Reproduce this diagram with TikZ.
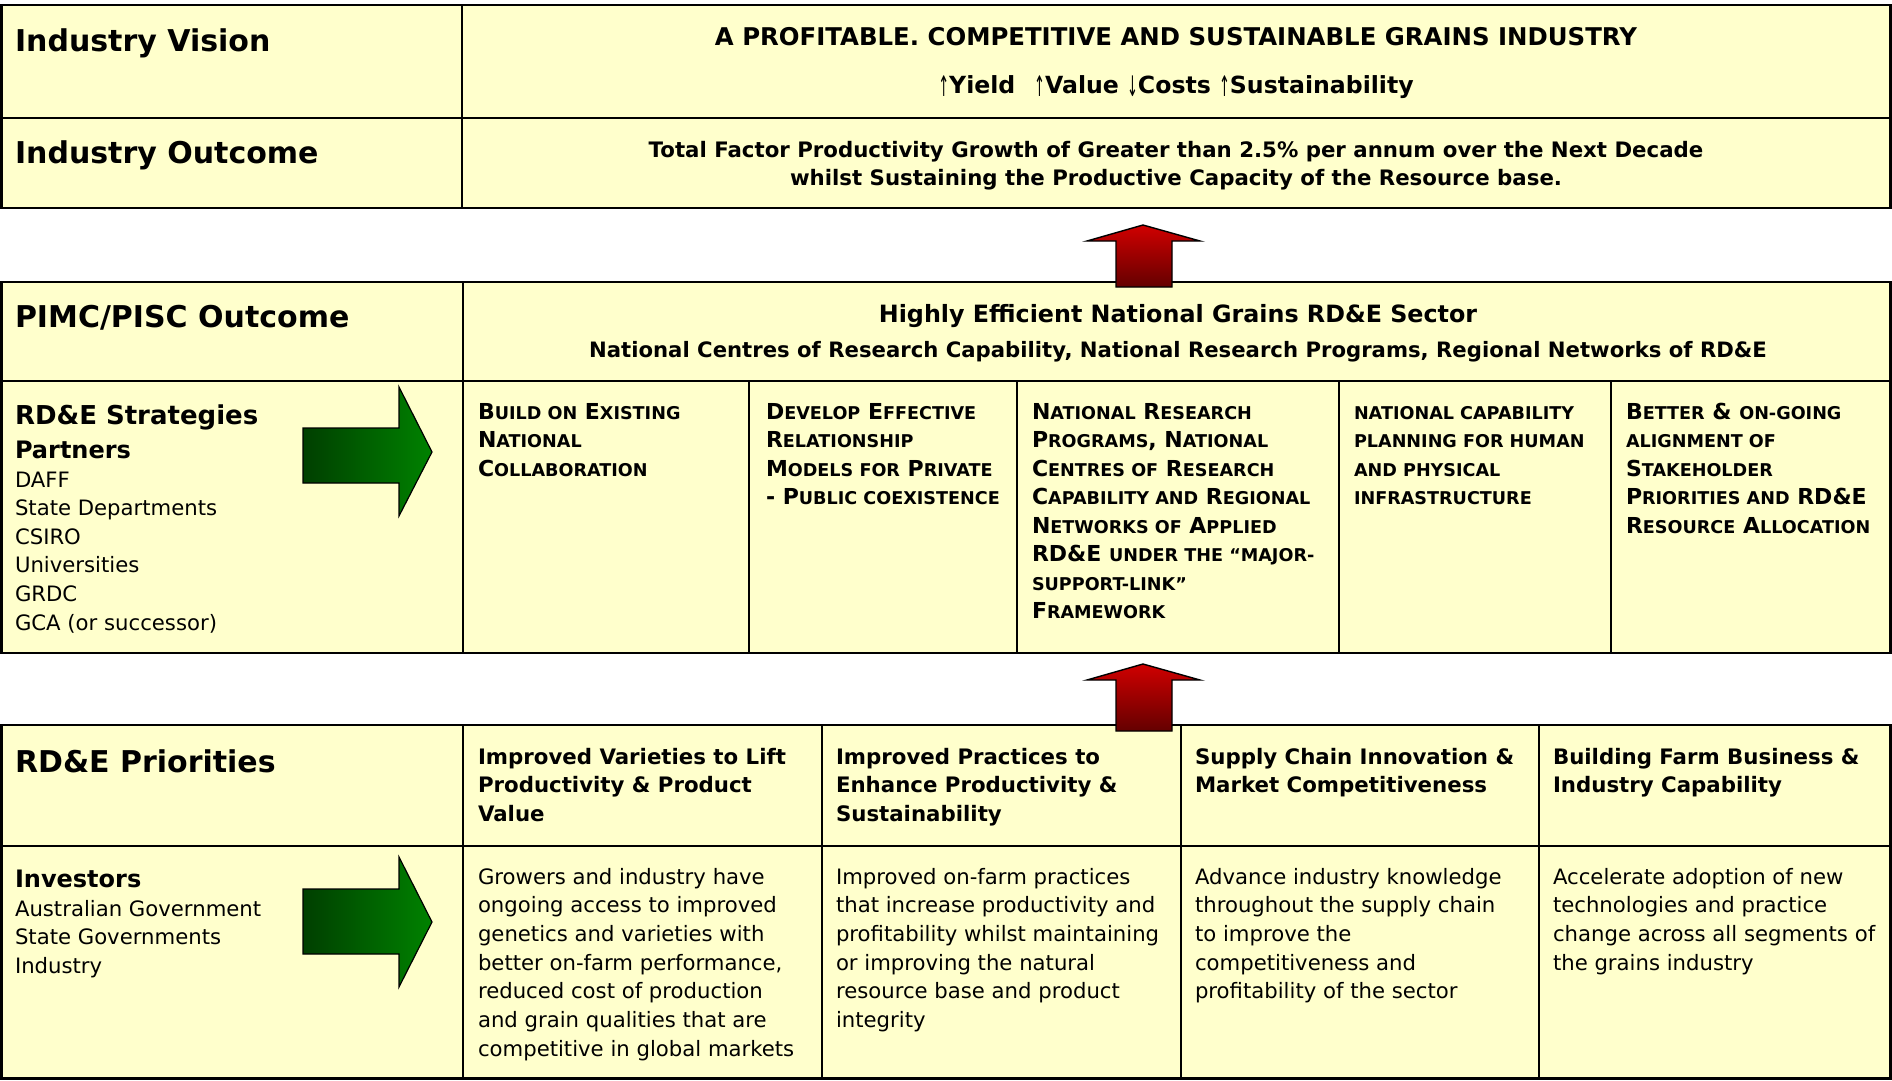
\documentclass[tikz,border=0pt]{standalone}
\usepackage{fontspec}
\setmainfont{DejaVu Sans}
\usetikzlibrary{shadings}

\definecolor{cellyellow}{HTML}{FFFFCC}
\definecolor{arrowred}{HTML}{D00000}
\definecolor{arrowdark}{HTML}{640000}
\definecolor{greendark}{HTML}{003F00}
\definecolor{greenlight}{HTML}{008200}

% font helpers
\newcommand\fsz[2]{\fontsize{#1}{#2}\selectfont}
% reduced capitals for the small-caps strategy texts
\newcommand\smc[1]{{\fontsize{17.6}{28}\selectfont #1}}
% thin vertical arrows in the vision line
\newcommand\uarr{{\mdseries\raisebox{-3.5pt}{\scalebox{0.55}[1.2]{↑}}}}
\newcommand\darr{{\mdseries\raisebox{-3.5pt}{\scalebox{0.55}[1.2]{↓}}}}

% one node per line: name, x, first baseline, line step, style, lines
\newcommand\textlines[6]{%
  \foreach \tline [count=\k] in {#6} {%
    \node[#5] (#1-\k) at (#2,{#3+(\k-1)*#4}) {\tline};
  }%
}

\tikzset{
  cell/.style={fill=cellyellow},
  outerline/.style={draw=black, line width=2.6pt},
  innerline/.style={draw=black, line width=1.8pt},
  lbl/.style={anchor=base west, inner sep=0pt, outer sep=0pt},
  ctr/.style={anchor=base, inner sep=0pt, outer sep=0pt},
  headtxt/.style={lbl, font=\fsz{30}{36}\bfseries},
  subhead/.style={lbl, font=\fsz{26}{31}\bfseries},
  grouptxt/.style={lbl, font=\fsz{24}{29}\bfseries},
  plaintxt/.style={lbl, font=\fsz{21.2}{28}},
  boldtxt/.style={lbl, font=\fsz{21.3}{28}\bfseries},
  sctxt/.style={lbl, font=\fsz{22}{28}\bfseries},
  redarrow/.style={draw=black, line width=1.4pt, line join=miter, top color=arrowred, bottom color=arrowdark},
  greenarrow/.style={draw=black, line width=1.2pt, line join=miter, left color=greendark, right color=greenlight},
}

\begin{document}
\begin{tikzpicture}[x=1pt, y=-1pt]
\useasboundingbox (0,0) rectangle (1892,1081);
\fill[white] (0,0) rectangle (1892,1081);

% ---------- vision / outcome table ----------
\path[cell] (1.3,5) rectangle (1890.7,208);
\draw[innerline] (462,5) -- (462,208);
\draw[innerline] (0,118) -- (1892,118);
\draw[outerline] (1.3,5) rectangle (1890.7,208);

\node[headtxt] (vision) at (15,52) {Industry Vision};
\node[headtxt] (outcome) at (15,163) {Industry Outcome};
\node[ctr, font=\fsz{24.4}{28}\bfseries] (vision-1) at (1176,46)
  {A PROFITABLE. COMPETITIVE AND SUSTAINABLE GRAINS INDUSTRY};
\node[ctr, font=\fsz{23.6}{28}\bfseries] (vision-2) at (1176,93)
  {\uarr Yield\hspace{0.45em} \uarr Value \darr Costs \uarr Sustainability};
\node[ctr, font=\fsz{21.3}{28}\bfseries] (outcome-1) at (1176,157)
  {Total Factor Productivity Growth of Greater than 2.5\% per annum over the Next Decade};
\node[ctr, font=\fsz{21.3}{28}\bfseries] (outcome-2) at (1176,185)
  {whilst Sustaining the Productive Capacity of the Resource base.};

% ---------- PIMC / strategies table ----------
\path[cell] (1.3,282) rectangle (1890.7,653);
\draw[innerline] (0,381) -- (1892,381);
\draw[innerline] (463,282) -- (463,653);
\foreach \cx in {749,1017,1339,1611} \draw[innerline] (\cx,381) -- (\cx,653);
\draw[outerline] (1.3,282) rectangle (1890.7,653);

\node[headtxt] (pimc) at (15,327) {PIMC/PISC Outcome};
\node[ctr, font=\fsz{23.8}{28}\bfseries] (sector-1) at (1178,322)
  {Highly Efficient National Grains RD\&E Sector};
\node[ctr, font=\fsz{21.2}{28}\bfseries] (sector-2) at (1178,357)
  {National Centres of Research Capability, National Research Programs, Regional Networks of RD\&E};

\node[subhead] (strategies) at (15,424) {RD\&E Strategies};
\node[grouptxt] (partners) at (15,458) {Partners};
\textlines{partner}{15}{487}{28.6}{plaintxt}{DAFF,State Departments,CSIRO,Universities,GRDC,GCA (or successor)}

\textlines{stratA}{478}{419}{28.5}{sctxt}{%
B\smc{UILD ON} E\smc{XISTING},N\smc{ATIONAL},C\smc{OLLABORATION}}
\textlines{stratB}{766}{419}{28.5}{sctxt}{%
D\smc{EVELOP} E\smc{FFECTIVE},R\smc{ELATIONSHIP},M\smc{ODELS FOR} P\smc{RIVATE},- P\smc{UBLIC COEXISTENCE}}
\textlines{stratC}{1032}{419}{28.5}{sctxt}{%
N\smc{ATIONAL} R\smc{ESEARCH},{P\smc{ROGRAMS}, N\smc{ATIONAL}},C\smc{ENTRES OF} R\smc{ESEARCH},C\smc{APABILITY AND} R\smc{EGIONAL},N\smc{ETWORKS OF} A\smc{PPLIED},RD\&E \smc{UNDER THE “MAJOR-},\smc{SUPPORT-LINK”},F\smc{RAMEWORK}}
\textlines{stratD}{1354}{419}{28.5}{sctxt}{%
\smc{NATIONAL CAPABILITY},\smc{PLANNING FOR HUMAN},\smc{AND PHYSICAL},\smc{INFRASTRUCTURE}}
\textlines{stratE}{1626}{419}{28.5}{sctxt}{%
B\smc{ETTER} \& \smc{ON-GOING},\smc{ALIGNMENT OF},S\smc{TAKEHOLDER},P\smc{RIORITIES AND} RD\&E,R\smc{ESOURCE} A\smc{LLOCATION}}

% green arrow towards the strategies
\path[greenarrow] (303,428) -- (399,428) -- (399,387) -- (432,452)
  -- (399,516) -- (399,483) -- (303,483) -- cycle;

% ---------- priorities table ----------
\path[cell] (1.3,725) rectangle (1890.7,1078.7);
\draw[innerline] (0,846) -- (1892,846);
\foreach \cx in {463,822,1181,1539} \draw[innerline] (\cx,725) -- (\cx,1078.7);
\draw[outerline] (1.3,725) rectangle (1890.7,1078.7);

\node[headtxt] (priorities) at (15,772) {RD\&E Priorities};
\node[grouptxt] (investors) at (15,887) {Investors};
\textlines{investor}{15}{916}{28.6}{plaintxt}{Australian Government,State Governments,Industry}

\textlines{prioA}{478}{764}{28.5}{boldtxt}{Improved Varieties to Lift,Productivity \& Product,Value}
\textlines{prioB}{836}{764}{28.5}{boldtxt}{Improved Practices to,Enhance Productivity \&,Sustainability}
\textlines{prioC}{1195}{764}{28.5}{boldtxt}{Supply Chain Innovation \&,Market Competitiveness}
\textlines{prioD}{1553}{764}{28.5}{boldtxt}{Building Farm Business \&,Industry Capability}

\textlines{goalA}{478}{884}{28.7}{plaintxt}{Growers and industry have,ongoing access to improved,genetics and varieties with,{better on-farm performance,},reduced cost of production,and grain qualities that are,competitive in global markets}
\textlines{goalB}{836}{884}{28.7}{plaintxt}{Improved on-farm practices,that increase productivity and,profitability whilst maintaining,or improving the natural,resource base and product,integrity}
\textlines{goalC}{1195}{884}{28.7}{plaintxt}{Advance industry knowledge,throughout the supply chain,to improve the,competitiveness and,profitability of the sector}
\textlines{goalD}{1553}{884}{28.7}{plaintxt}{Accelerate adoption of new,technologies and practice,change across all segments of,the grains industry}

% green arrow towards the priorities
\path[greenarrow] (303,889) -- (399,889) -- (399,857) -- (432,922)
  -- (399,987) -- (399,954) -- (303,954) -- cycle;

% ---------- red arrows between the tables ----------
\path[redarrow] (1116,287) -- (1116,241) -- (1087,241) -- (1143,225)
  -- (1200,241) -- (1172,241) -- (1172,287) -- cycle;
\path[redarrow] (1116,731) -- (1116,680) -- (1087,680) -- (1143,664)
  -- (1200,680) -- (1172,680) -- (1172,731) -- cycle;

\end{tikzpicture}
\end{document}
